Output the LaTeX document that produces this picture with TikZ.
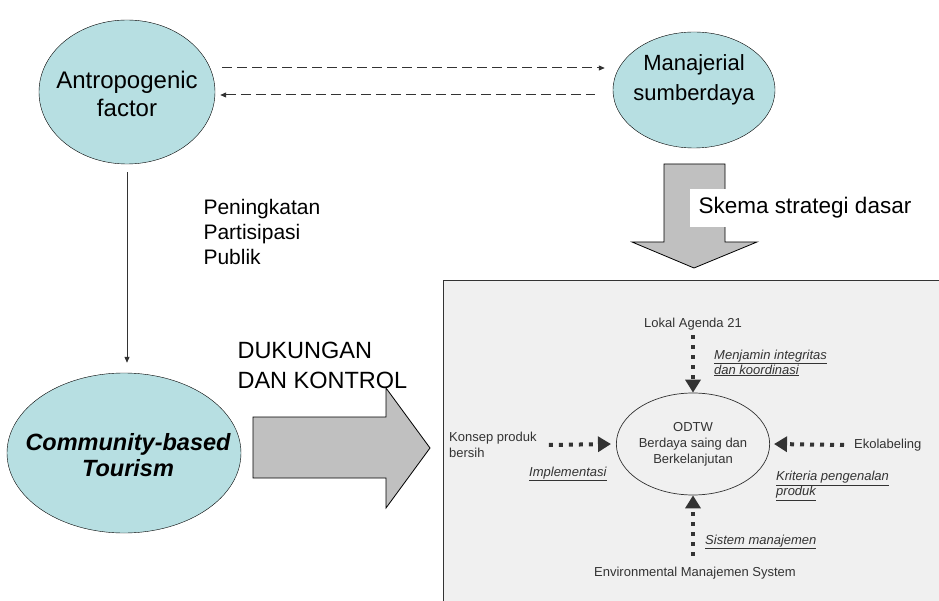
\documentclass[tikz,border=0pt]{standalone}
\usepackage{fontspec}
\setmainfont{Liberation Sans}
\usetikzlibrary{arrows.meta,shapes.geometric,calc}
\definecolor{bubblecol}{HTML}{B7DFE2}
\definecolor{blockcol}{HTML}{C0C0C0}
\definecolor{panelcol}{HTML}{F0F0F0}
\definecolor{ink}{HTML}{333333}
\tikzset{
  bubble/.style={ellipse,draw,fill=bubblecol,inner sep=0pt},
  block/.style={draw,fill=blockcol,line width=0.8pt},
  fatdots/.style={ink,line width=4pt,dash pattern=on 4pt off 6pt,-{Triangle[length=13pt,width=15pt]}},
  smalltxt/.style={ink,font=\fontsize{13}{16}\selectfont,inner sep=0pt},
  undertxt/.style={ink,font=\fontsize{13}{15}\selectfont\itshape,inner sep=0pt,align=left,anchor=west},
}
\begin{document}
\begin{tikzpicture}[x=1pt,y=-1pt,>={Triangle[length=6pt,width=5pt]}]
\useasboundingbox (0,0) rectangle (939,601);
\clip (0,0) rectangle (939,601);
% panel on the right
\fill[panelcol] (443,281) rectangle (950,610);
\draw[ink,line width=1pt] (950,281) -- (443,281) -- (443,610);

\node[bubble,minimum width=176pt,minimum height=144pt] (antro) at (127,92) {};
\node[font=\fontsize{24}{28}\selectfont,align=center] (antrotxt) at (127,94) {Antropogenic\\factor};
\node[bubble,minimum width=162pt,minimum height=116pt] (manaj) at (694,90) {};
\node[font=\fontsize{22}{30}\selectfont,align=center] (manajtxt) at (694,80) {Manajerial\\sumberdaya};
\node[bubble,minimum width=234pt,minimum height=160pt] (cbt) at (124,453) {};
\node[font=\fontsize{23.5}{26}\selectfont\bfseries\itshape,align=center] (cbttxt) at (128,455) {Community-based\\Tourism};

\draw[ink,line width=1pt,dash pattern=on 10pt off 5pt,->] ([xshift=7pt,yshift=24pt]antro.east) -- ([xshift=-8pt,yshift=22pt]manaj.west);
\draw[ink,line width=1pt,dash pattern=on 10pt off 5pt,<-] ([xshift=5pt,yshift=-3pt]antro.east) -- ([xshift=-18pt,yshift=-5pt]manaj.west);
\draw[ink,line width=1pt,->] ([yshift=-8pt]antro.south) -- ([yshift=10pt]antro.south |- cbt.north);

\node[anchor=west,align=left,font=\fontsize{21}{25}\selectfont] (partisipasi) at (200,232) {Peningkatan\\Partisipasi\\Publik};

% block arrows
\draw[block] (253,417) -- (386,417) -- (386,388) -- (430,448) -- (386,508) -- (386,478) -- (253,478) -- cycle;
\node[anchor=west,align=left,font=\fontsize{23.5}{30}\selectfont] (dukungan) at (234,365) {DUKUNGAN\\DAN KONTROL};
\draw[block] (664,164) -- (725,164) -- (725,242) -- (757,242) -- (694,268) -- (632,242) -- (664,242) -- cycle;
\node[fill=white,inner xsep=9pt,inner ysep=9pt,font=\fontsize{22.5}{27}\selectfont] (skema) at (805,208) {Skema strategi dasar};

% inside the panel
\node[ellipse,draw=ink,line width=0.7pt,minimum width=128pt,minimum height=102pt,align=center,smalltxt] (odtw) at (693,444) {ODTW\\Berdaya saing dan\\Berkelanjutan};
\node[smalltxt] (lokal) at (693,324) {Lokal Agenda 21};
\node[smalltxt,anchor=west,align=left] (konsep) at (449,445) {Konsep produk\\bersih};
\node[smalltxt,anchor=west] (eko) at (854,445) {Ekolabeling};
\node[smalltxt] (ems) at (695,573) {Environmental Manajemen System};

\draw[fatdots] ([yshift=-5pt]lokal.south) -- (odtw.north);
\draw[fatdots] ([xshift=12pt]konsep.east) -- ([xshift=-5pt]odtw.west);
\draw[fatdots] ([xshift=-10pt]eko.west) -- ([xshift=4pt]odtw.east);
\draw[fatdots] ($(odtw.south |- ems.north)+(0,-11)$) -- (odtw.south);

\node[undertxt] (integritas) at (714,363) {\underline{Menjamin integritas}\\\underline{dan koordinasi}};
\node[undertxt] (implementasi) at (529,474) {\underline{Implementasi}};
\node[undertxt] (kriteria) at (776,486) {\underline{Kriteria pengenalan}\\\underline{produk}};
\node[undertxt] (sistem) at (705,542) {\underline{Sistem manajemen}};
\end{tikzpicture}
\end{document}
